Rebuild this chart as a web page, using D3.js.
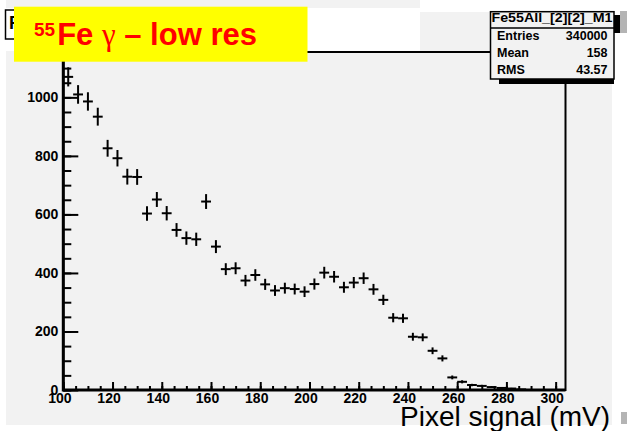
<!DOCTYPE html>
<html>
<head>
<meta charset="utf-8">
<script src="https://cdn.jsdelivr.net/npm/d3@7"></script>
<style>
  html, body { margin: 0; padding: 0; background: #ffffff; }
  svg { display: block; font-family: "Liberation Sans", Arial, Helvetica, sans-serif; }
</style>
</head>
<body>
<svg id="chart" width="627" height="431"></svg>
<script>
// ---- data ----
const binCenters = [102,106,110,114,118,122,126,130,134,138,142,146,150,154,158,162,166,170,174,178,
  182,186,190,194,198,202,206,210,214,218,222,226,230,234,238,242,246,250,254,258,
  262,266,270,274,278,282,286,290,294,298,302];
const counts = [1070,1010,986,934,826,792,729,728,603,651,604,547,519,515,644,490,413,416,374,393,
  361,340,348,345,336,362,401,387,351,367,382,344,308,247,245,182,180,134,108,43,
  28,17,14,10,7,5,2,0,0,0,0];
const xTickLabels = [100,120,140,160,180,200,220,240,260,280,300];
const yTickLabels = [0,200,400,600,800,1000];
const statsLabels = ["Entries","Mean","RMS"];
const statsValues = ["340000","158","43.57"];
const histName = "Fe55All_[2][2]_M1";
const xTitle = "Pixel signal (mV)";

const binWidth = 4;
const svg = d3.select("#chart");
const bg = "#f2f2f2";

// pad background
svg.append("rect").attr("x", 6).attr("y", 0).attr("width", 606).attr("height", 425).attr("fill", bg);
svg.append("rect").attr("x", 6).attr("y", 8).attr("width", 414).attr("height", 43).attr("fill", "#fff");
svg.append("rect").attr("x", 420).attr("y", 0).attr("width", 192).attr("height", 12).attr("fill", "#fff");

const x = d3.scaleLinear().domain([100, 304]).range([63.3, 565.5]);
const y = d3.scaleLinear().domain([0, 1155]).range([390, 52]);

// frame
svg.append("rect").attr("x", x(100)).attr("y", y(1155)).attr("width", x(304) - x(100)).attr("height", y(0) - y(1155))
  .attr("fill", bg).attr("stroke", "#000").attr("stroke-width", 2);

const font = "Liberation Sans, Arial, sans-serif";
// x axis ticks
const gx = svg.append("g").attr("transform", `translate(0,${y(0)})`);
gx.call(d3.axisBottom(x).tickValues(d3.range(100, 305, 5)).tickSize(-4).tickFormat(""))
  .call(g => g.select(".domain").remove());
gx.append("g").call(d3.axisBottom(x).tickValues(xTickLabels).tickSize(-8).tickSizeOuter(0).tickPadding(3)
    .tickFormat(d3.format("d")))
  .call(g => g.select(".domain").remove());
gx.selectAll("line").attr("stroke", "#000").attr("stroke-width", 2);
gx.selectAll("text").attr("font-size", 14).attr("font-weight", "bold").attr("fill", "#000")
  .attr("dx", -4).attr("font-family", font);

// y axis ticks
const gy = svg.append("g").attr("transform", `translate(${x(100)},0)`);
gy.call(d3.axisLeft(y).tickValues(d3.range(0, 1151, 50)).tickSize(-8).tickFormat(""))
  .call(g => g.select(".domain").remove());
gy.append("g").call(d3.axisLeft(y).tickValues(yTickLabels).tickSize(-15).tickSizeOuter(0).tickPadding(5)
    .tickFormat(d3.format("d")))
  .call(g => g.select(".domain").remove());
gy.selectAll("line").attr("stroke", "#000").attr("stroke-width", 2);
gy.selectAll("text").attr("font-size", 14).attr("font-weight", "bold").attr("fill", "#000")
  .attr("font-family", font);

// thick axis lines
svg.append("line").attr("x1", x(100)).attr("x2", x(304)).attr("y1", y(0)).attr("y2", y(0))
  .attr("stroke", "#000").attr("stroke-width", 3);
svg.append("line").attr("x1", x(100)).attr("x2", x(100)).attr("y1", y(0) + 1.5).attr("y2", y(1155))
  .attr("stroke", "#000").attr("stroke-width", 3);

// data points with error bars
const pts = binCenters.map((c, i) => ({ c, v: counts[i] })).filter(d => d.v > 0);
const gp = svg.append("g").attr("stroke", "#000").attr("stroke-width", 2);
pts.forEach(d => {
  const e = Math.sqrt(d.v);
  gp.append("line").attr("x1", x(d.c - binWidth / 2)).attr("x2", x(d.c + binWidth / 2))
    .attr("y1", y(d.v)).attr("y2", y(d.v));
  gp.append("line").attr("x1", x(d.c)).attr("x2", x(d.c))
    .attr("y1", y(Math.max(0, d.v - e))).attr("y2", y(d.v + e));
});

// x axis title
svg.append("text").attr("x", 400).attr("y", 426).attr("font-size", 28).attr("fill", "#000")
  .attr("font-family", font).text(xTitle);

// hidden histogram title box (top-left)
svg.append("rect").attr("x", 5.5).attr("y", 10).attr("width", 60).attr("height", 29)
  .attr("fill", "#fff").attr("stroke", "#000").attr("stroke-width", 1.5);
svg.append("text").attr("x", 9).attr("y", 29).attr("font-size", 18).attr("font-weight", "bold").text("F");

// yellow label box
svg.append("rect").attr("x", 14).attr("y", 6.7).attr("width", 293.5).attr("height", 55).attr("fill", "#ffff00");
const t = svg.append("text").attr("x", 34).attr("y", 45).attr("fill", "#ff0000")
  .attr("font-weight", "bold").attr("font-size", 31);
t.append("tspan").attr("font-size", 19).attr("dy", -9).text("55");
t.append("tspan").attr("dy", 9).attr("dx", 2).text("Fe ");
t.append("tspan").attr("font-weight", "normal").attr("font-family", "Liberation Serif, serif").text("γ");
t.append("tspan").text(" – low res");

// stats box
svg.append("rect").attr("x", 499).attr("y", 79).attr("width", 115).attr("height", 5).attr("fill", "#000");
svg.append("rect").attr("x", 614).attr("y", 15).attr("width", 6).attr("height", 18).attr("fill", "#000");
svg.append("rect").attr("x", 620).attr("y", 11).attr("width", 7).attr("height", 22).attr("fill", "#b4b4b4");
svg.append("rect").attr("x", 621).attr("y", 412).attr("width", 6).attr("height", 12).attr("fill", "#b4b4b4");
svg.append("rect").attr("x", 490.5).attr("y", 11.7).attr("width", 123.5).attr("height", 67.3)
  .attr("fill", bg).attr("stroke", "#000").attr("stroke-width", 1.5);
svg.append("line").attr("x1", 490.5).attr("x2", 614).attr("y1", 28).attr("y2", 28).attr("stroke", "#000").attr("stroke-width", 1.5);
svg.append("text").attr("x", 491.5).attr("y", 22).attr("font-size", 13).attr("font-weight", "bold")
  .attr("textLength", 121).attr("lengthAdjust", "spacingAndGlyphs").text(histName);
statsLabels.forEach((l, i) => {
  svg.append("text").attr("x", 497).attr("y", 40 + i * 17).attr("font-size", 12.5).attr("font-weight", "bold").text(l);
  svg.append("text").attr("x", 607.5).attr("y", 40 + i * 17).attr("font-size", 12.5).attr("font-weight", "bold")
    .attr("text-anchor", "end").text(statsValues[i]);
});
</script>
</body>
</html>
